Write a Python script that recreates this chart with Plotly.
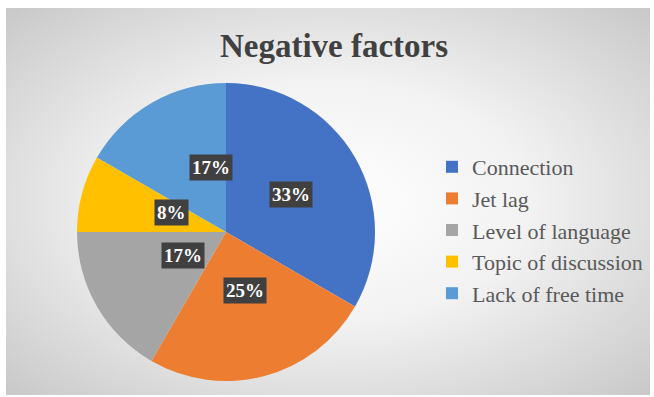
import base64, math
import plotly.graph_objects as go

categories = ["Connection", "Jet lag", "Level of language", "Topic of discussion", "Lack of free time"]
values = [4, 3, 2, 1, 2]
colors = ["#4472C4", "#ED7D31", "#A5A5A5", "#FFC000", "#5B9BD5"]
title_text = "Negative factors"

W, H = 654, 397
CX, CY, R = 226, 232, 149  # pie centre/radius in pixels

dom_x = [(CX - R) / W, (CX + R) / W]
dom_y = [(H - CY - R) / H, (H - CY + R) / H]

fig = go.Figure(go.Pie(
    labels=categories, values=values, sort=False, direction="clockwise", rotation=0,
    marker=dict(colors=colors, line=dict(width=0)),
    textinfo="none", hoverinfo="label+percent",
    domain=dict(x=dom_x, y=dom_y),
))

# percentage labels in dark boxes, placed from the data's angles
total = sum(values)
cum = 0
cxp, cyp = sum(dom_x) / 2, sum(dom_y) / 2
for v in values:
    mid = (cum + v / 2) / total * 2 * math.pi
    cum += v
    fig.add_annotation(
        x=cxp + 0.5 * R * math.sin(mid) / W,
        y=cyp + 0.5 * R * math.cos(mid) / H,
        xref="paper", yref="paper", showarrow=False,
        text=f"<b>{round(v / total * 100)}%</b>",
        font=dict(family="Liberation Serif", size=19, color="white"),
        bgcolor="#404040", borderpad=2,
    )

svg = '''<svg xmlns="http://www.w3.org/2000/svg" width="644" height="387">
<defs><radialGradient id="g" cx="50%" cy="50%" r="70%">
<stop offset="0" stop-color="#ffffff"/><stop offset="0.45" stop-color="#f2f2f2"/>
<stop offset="1" stop-color="#c9c9c9"/></radialGradient></defs>
<rect width="644" height="387" fill="url(#g)"/></svg>'''
src = "data:image/svg+xml;base64," + base64.b64encode(svg.encode()).decode()

fig.update_layout(
    width=W, height=H, margin=dict(l=0, r=0, t=0, b=0),
    paper_bgcolor="white", plot_bgcolor="white",
    images=[dict(source=src, xref="paper", yref="paper", x=6 / W, y=1 - 8 / H,
                 sizex=644 / W, sizey=387 / H, sizing="stretch", layer="below",
                 xanchor="left", yanchor="top")],
    title=dict(text="<b>" + title_text + "</b>", x=334 / W, xanchor="center",
               y=1 - 45 / H, yanchor="middle",
               font=dict(family="Liberation Serif", size=33, color="#404040")),
    legend=dict(x=432 / W, y=1 - 146 / H, xanchor="left", yanchor="top",
                font=dict(family="Liberation Serif", size=22, color="#595959"),
                bgcolor="rgba(0,0,0,0)", itemclick=False),
    showlegend=True,
)

fig.write_html("out.html", config={"displayModeBar": False},
               post_script="document.body.style.margin='0';")
